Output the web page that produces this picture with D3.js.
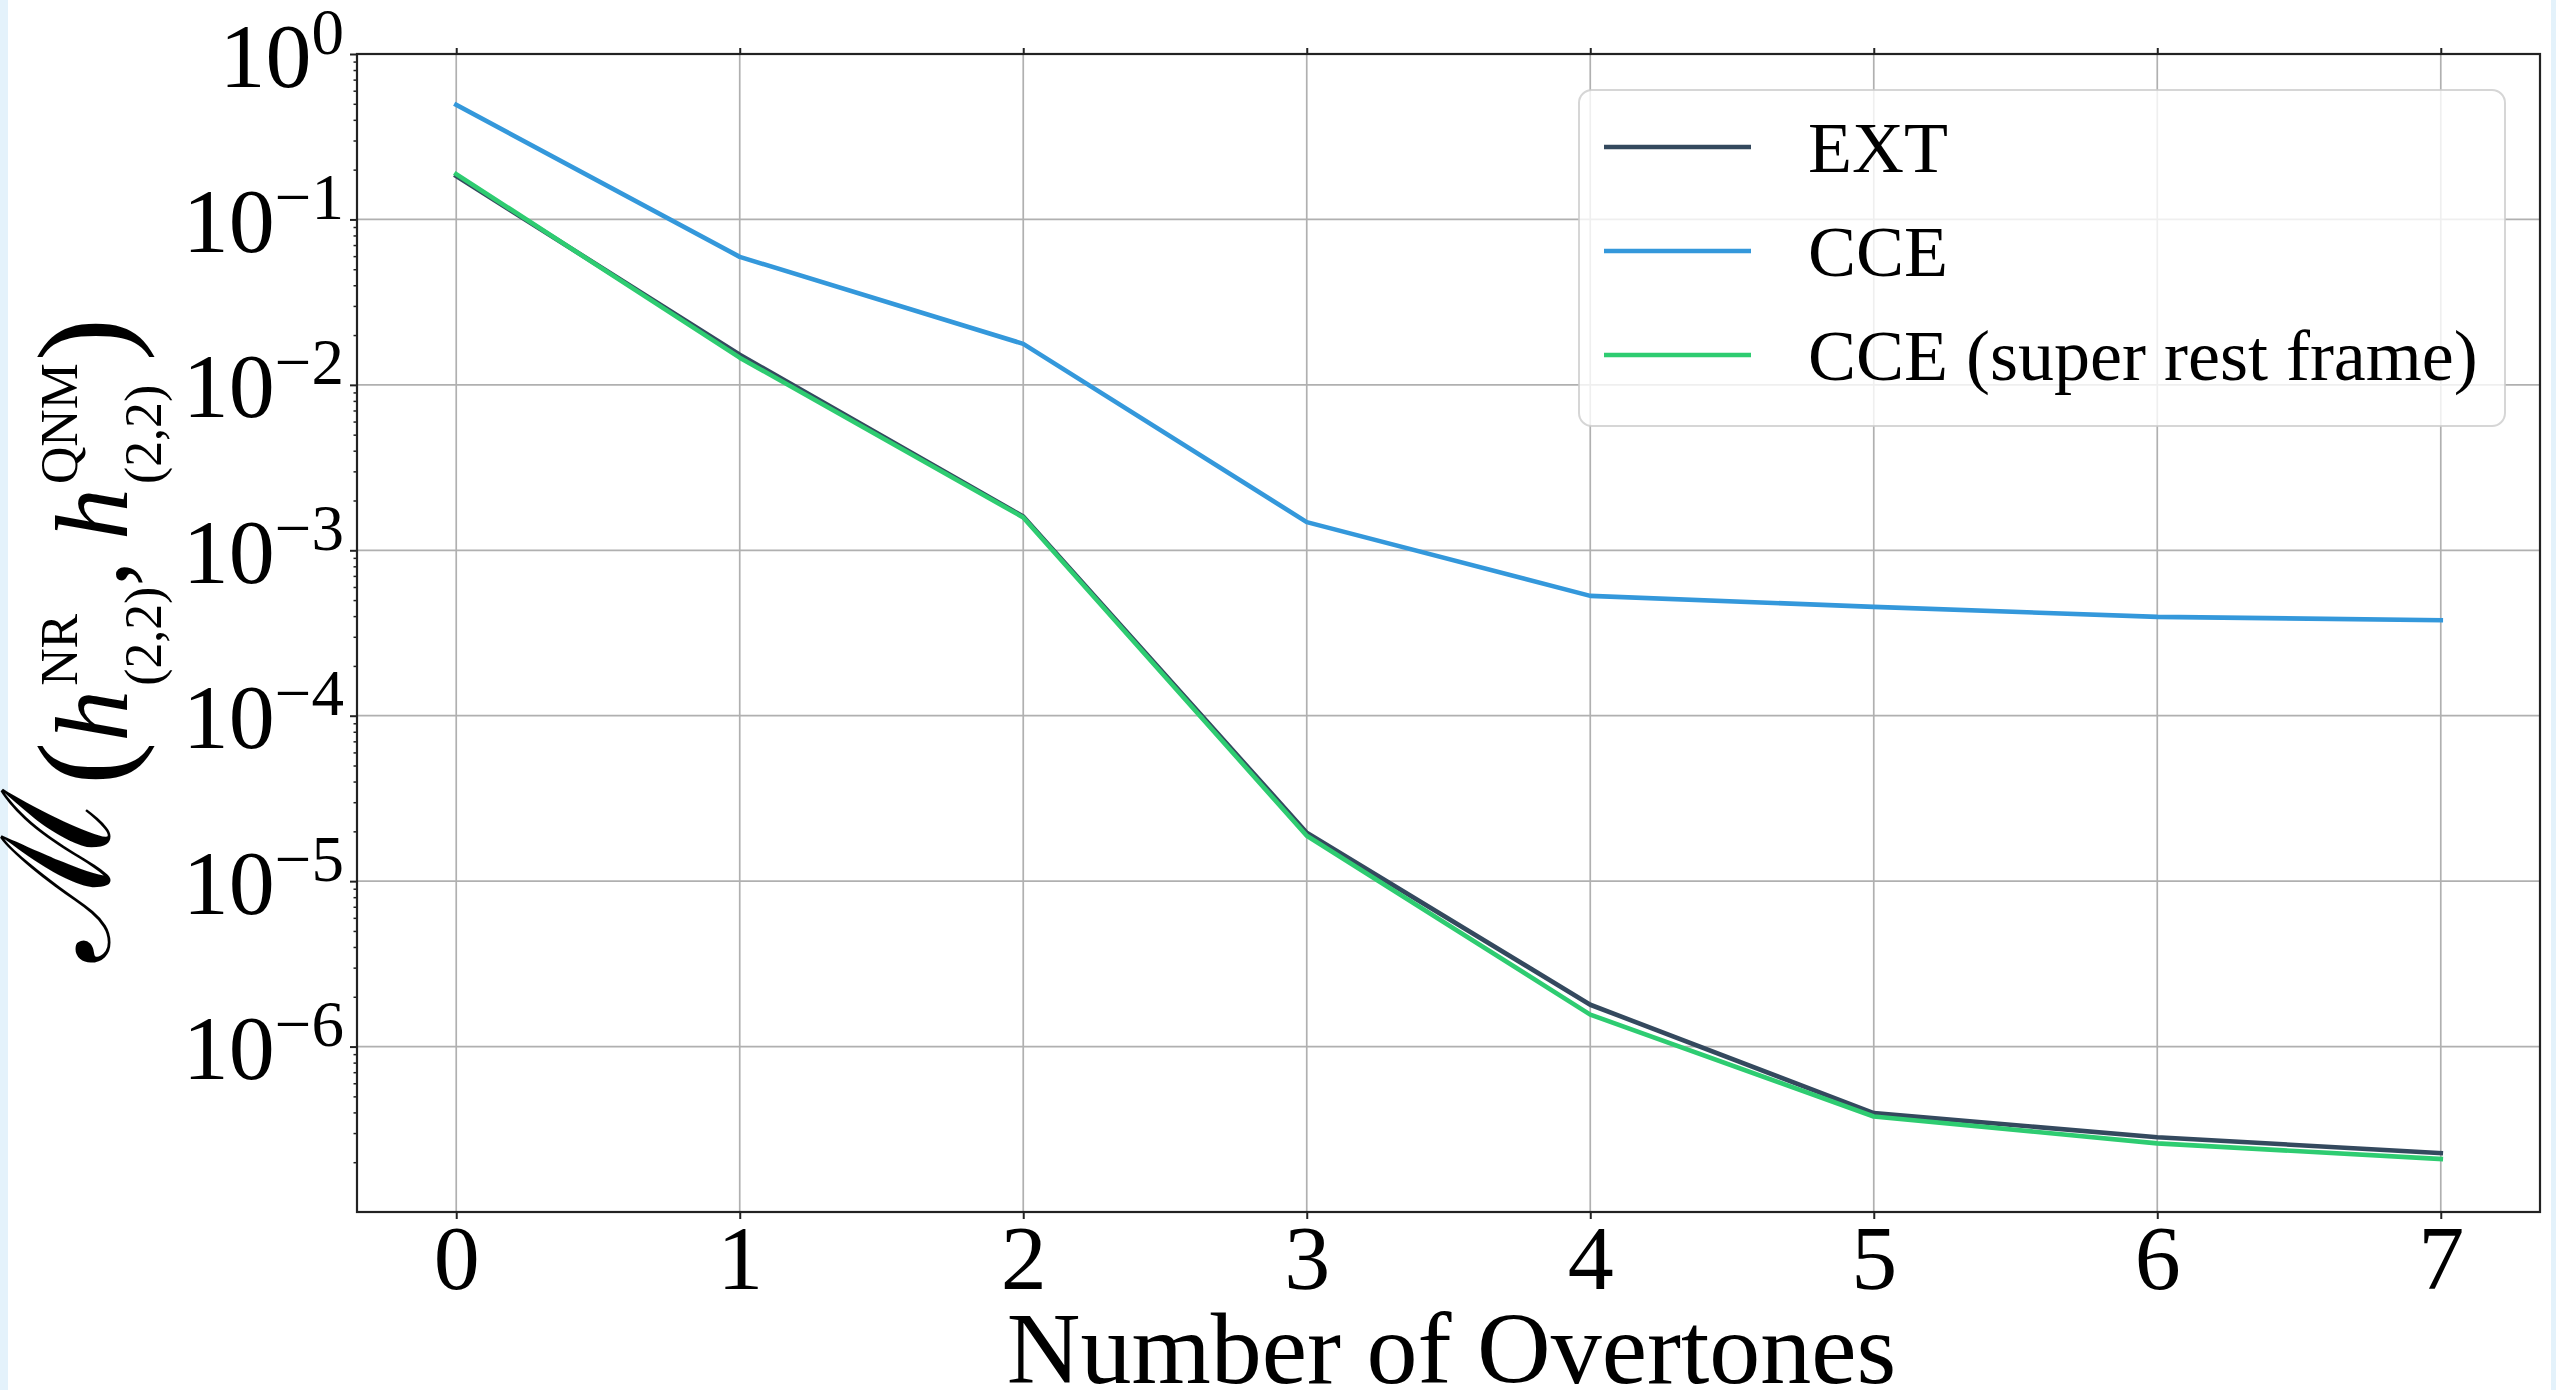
<!DOCTYPE html>
<html>
<head>
<meta charset="utf-8">
<script src="https://cdn.jsdelivr.net/npm/d3@7"></script>
<style>
  html, body { margin: 0; padding: 0; background: #ffffff; }
  svg { display: block; }
  text { font-family: "Liberation Serif", "DejaVu Serif", serif; fill: #000; }
</style>
</head>
<body>
<svg id="chart" width="2556" height="1390"></svg>
<script>
// Number of overtones on the x axis
const overtones = [0, 1, 2, 3, 4, 5, 6, 7];

// Mismatch values per extraction method
const extMismatch = [0.183, 0.0152, 1.60e-3, 1.96e-5, 1.79e-6, 3.96e-7, 2.83e-7, 2.27e-7];
const cceMismatch = [0.493, 0.0594, 0.0177, 1.48e-3, 5.3e-4, 4.55e-4, 3.96e-4, 3.78e-4];
const cceSrfMismatch = [0.188, 0.0146, 1.58e-3, 1.88e-5, 1.56e-6, 3.78e-7, 2.60e-7, 2.09e-7];

// Series names and colours
const seriesNames = ["EXT", "CCE", "CCE (super rest frame)"];
const seriesColors = ["#34495e", "#3498db", "#2ecc71"];

// Tick labels
const xTickLabels = ["0", "1", "2", "3", "4", "5", "6", "7"];
const yTickExponents = [0, -1, -2, -3, -4, -5, -6];

const xAxisTitle = "Number of Overtones";

const svg = d3.select("#chart");
const W = 2556, H = 1390;
const plot = { left: 357, right: 2540, top: 54, bottom: 1212 };

// page edge tint
svg.append("rect").attr("x", 0).attr("y", 0).attr("width", W).attr("height", H).attr("fill", "#ffffff");
svg.append("rect").attr("x", 0).attr("y", 0).attr("width", 8).attr("height", H).attr("fill", "#e4f2fb");
svg.append("rect").attr("x", 2551).attr("y", 0).attr("width", 5).attr("height", H).attr("fill", "#e4f2fb");

const x = d3.scaleLinear().domain([-0.35, 7.35]).range([plot.left, plot.right]);
const y = d3.scaleLog().domain([1e-7, 1]).range([plot.bottom, plot.top]);

const yMajor = yTickExponents.map(e => Math.pow(10, e));
const yMinor = y.ticks().filter(v => {
  const l = Math.log10(v);
  return Math.abs(l - Math.round(l)) > 1e-6;
});

// grid
const grid = svg.append("g");
grid.selectAll("line.gx").data(overtones).join("line")
  .attr("x1", d => x(d)).attr("x2", d => x(d))
  .attr("y1", plot.top).attr("y2", plot.bottom)
  .attr("stroke", "#b0b0b0").attr("stroke-width", 1.7);
grid.selectAll("line.gy").data(yMajor).join("line")
  .attr("x1", plot.left).attr("x2", plot.right)
  .attr("y1", d => y(d)).attr("y2", d => y(d))
  .attr("stroke", "#b0b0b0").attr("stroke-width", 1.7);

// data lines
svg.append("clipPath").attr("id", "plotclip").append("rect")
  .attr("x", plot.left).attr("y", plot.top)
  .attr("width", plot.right - plot.left).attr("height", plot.bottom - plot.top);

const allSeries = [extMismatch, cceMismatch, cceSrfMismatch];
const line = d3.line().x((d, i) => x(overtones[i])).y(d => y(d));
const linesG = svg.append("g").attr("clip-path", "url(#plotclip)");
allSeries.forEach((vals, k) => {
  linesG.append("path").datum(vals)
    .attr("d", line)
    .attr("fill", "none")
    .attr("stroke", seriesColors[k])
    .attr("stroke-width", 4.6)
    .attr("stroke-linejoin", "round")
    .attr("stroke-linecap", "square");
});

// axes
const xAxis = d3.axisBottom(x).tickValues(overtones).tickSize(7)
  .tickFormat((d, i) => xTickLabels[i]);
const gx = svg.append("g").attr("transform", `translate(0,${plot.bottom})`).call(xAxis);
gx.select(".domain").remove();
gx.selectAll(".tick line").attr("stroke", "#222").attr("stroke-width", 2);
gx.selectAll(".tick text")
  .attr("y", 77).attr("dy", null)
  .style("font-family", '"Liberation Serif", serif')
  .style("font-size", "92px").attr("fill", "#000");

const xTop = d3.axisTop(x).tickValues(overtones).tickSize(6).tickFormat("");
const gxt = svg.append("g").attr("transform", `translate(0,${plot.top})`).call(xTop);
gxt.select(".domain").remove();
gxt.selectAll(".tick line").attr("stroke", "#222").attr("stroke-width", 2);

const yAxis = d3.axisLeft(y).tickValues(yMajor).tickSize(7).tickFormat("");
const gy = svg.append("g").attr("transform", `translate(${plot.left},0)`).call(yAxis);
gy.select(".domain").remove();
gy.selectAll(".tick line").attr("stroke", "#222").attr("stroke-width", 2);
gy.selectAll(".tick").each(function(d) {
  const e = Math.round(Math.log10(d));
  const t = d3.select(this).append("text")
    .attr("x", -13).attr("y", 32)
    .attr("text-anchor", "end")
    .style("font-size", "92px");
  t.append("tspan").text("10");
  t.append("tspan").attr("dy", -33).style("font-size", "65px")
    .text(e < 0 ? "\u2212" + Math.abs(e) : String(e));
});

const yMinorAxis = d3.axisLeft(y).tickValues(yMinor).tickSize(3.5).tickFormat("");
const gym = svg.append("g").attr("transform", `translate(${plot.left},0)`).call(yMinorAxis);
gym.select(".domain").remove();
gym.selectAll(".tick line").attr("stroke", "#222").attr("stroke-width", 1.5);

// spines
svg.append("rect")
  .attr("x", plot.left).attr("y", plot.top)
  .attr("width", plot.right - plot.left).attr("height", plot.bottom - plot.top)
  .attr("fill", "none").attr("stroke", "#222").attr("stroke-width", 2.2);

// legend
const legend = svg.append("g");
legend.append("rect")
  .attr("x", 1579).attr("y", 90).attr("width", 926).attr("height", 336)
  .attr("rx", 13).attr("ry", 13)
  .attr("fill", "#ffffff").attr("fill-opacity", 0.8)
  .attr("stroke", "#cccccc").attr("stroke-opacity", 0.8).attr("stroke-width", 2);
seriesNames.forEach((name, k) => {
  const cy = 147 + k * 104;
  legend.append("line")
    .attr("x1", 1604).attr("x2", 1751).attr("y1", cy).attr("y2", cy)
    .attr("stroke", seriesColors[k]).attr("stroke-width", 4.6);
  legend.append("text")
    .attr("x", 1808).attr("y", cy + 25)
    .style("font-size", "72px")
    .text(name);
});

// x axis title
svg.append("text")
  .attr("x", (plot.left + plot.right) / 2 + 3).attr("y", 1383)
  .attr("text-anchor", "middle")
  .style("font-size", "102px")
  .text(xAxisTitle);

// y axis title: M(h^NR_(2,2), h^QNM_(2,2)) laid out piece by piece along
// a common baseline, then stretched to the span it occupies beside the axis
const F = 100, P = 125, M = 145, S = 50, SUP = -48, SUB = 33;
const yTitlePieces = [
  { t: "\u2133", size: M, family: '"DejaVu Serif", serif', shift: -17 },
  { t: "(", size: P, dx: 4 },
  { t: "h", size: F, italic: true },
  { t: "NR", size: S, shift: SUP, dx: 4 },
  { t: "(2,2)", size: S, shift: SUB, stack: true },
  { t: ",", size: F },
  { t: "h", size: F, italic: true, dx: 20 },
  { t: "QNM", size: S, shift: SUP, dx: 4 },
  { t: "(2,2)", size: S, shift: SUB, stack: true },
  { t: ")", size: P, dx: 2 }
];
const yTitle = svg.append("g");
const yTitleInner = yTitle.append("g");
let cursor = 0, lastStart = 0;
yTitlePieces.forEach(p => {
  const start = p.stack ? lastStart : cursor + (p.dx || 0);
  const el = yTitleInner.append("text")
    .attr("x", start).attr("y", p.shift || 0)
    .style("font-size", p.size + "px")
    .style("font-style", p.italic ? "italic" : "normal")
    .text(p.t);
  if (p.family) el.style("font-family", p.family);
  const w = el.node().getComputedTextLength();
  cursor = p.stack ? Math.max(cursor, start + w) : start + w;
  lastStart = start;
});
const targetLength = 644;          // along the axis, screen pixels
const k = targetLength / cursor;
yTitle.attr("transform", `translate(127,640) rotate(-90) scale(${k}) translate(${-cursor / 2},0)`);
</script>
</body>
</html>
